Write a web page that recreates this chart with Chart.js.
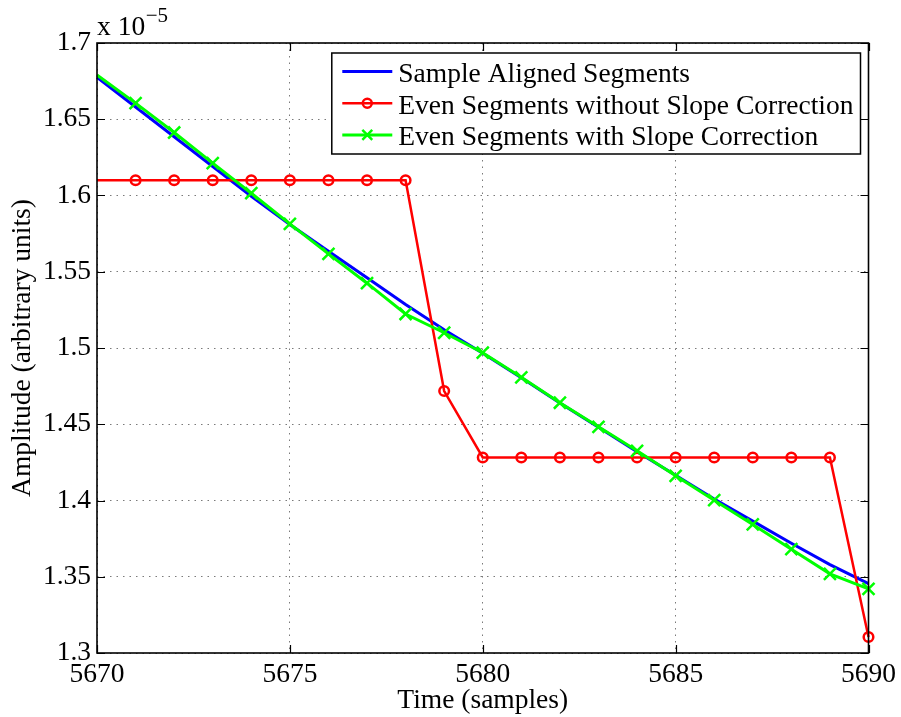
<!DOCTYPE html>
<html><head><meta charset="utf-8">
<script src="https://cdn.jsdelivr.net/npm/chart.js@4/dist/chart.umd.min.js"></script>
<style>html,body{margin:0;padding:0;background:#fff;overflow:hidden}</style>
</head><body>
<canvas id="c" width="901" height="717" style="width:901px;height:717px;display:block"></canvas>
<script>
// ---- data (amplitude in units of 1e-5) ----
const samples = [5670,5671,5672,5673,5674,5675,5676,5677,5678,5679,5680,5681,5682,5683,5684,5685,5686,5687,5688,5689,5690];
const sampleAligned = [1.6775,1.6580,1.6385,1.6190,1.5995,1.5810,1.5635,1.5460,1.5285,1.5120,1.4965,1.4805,1.4640,1.4480,1.4320,1.4165,1.4010,1.3865,1.3720,1.3580,1.3455];
const evenNoSlope   = [1.6100,1.6100,1.6100,1.6100,1.6100,1.6100,1.6100,1.6100,1.6100,1.4718,1.4282,1.4282,1.4282,1.4282,1.4282,1.4282,1.4282,1.4282,1.4282,1.4282,1.3105];
const evenSlope     = [1.6790,1.6606,1.6413,1.6212,1.6015,1.5814,1.5617,1.5425,1.5223,1.5100,1.4969,1.4808,1.4641,1.4483,1.4326,1.4162,1.4002,1.3843,1.3681,1.3519,1.3420];
const seriesLabels = ['Sample Aligned Segments','Even Segments without Slope Correction','Even Segments with Slope Correction'];
const xTicks = [5670,5675,5680,5685,5690];
const yTicks = [1.3,1.35,1.4,1.45,1.5,1.55,1.6,1.65,1.7];
const xTitle = 'Time (samples)';
const yTitle = 'Amplitude (arbitrary units)';
const expBase = 'x 10';
const expPower = '\u22125';

const FAM = "'Liberation Serif','Times New Roman',serif";
const FS = 27.5;

function pts(arr){ return samples.map((s,i)=>({x:s,y:arr[i]})); }

const decor = {
  id:'decor',
  afterDraw(chart){
    const {ctx, chartArea:{left,right,top,bottom}, scales:{x,y}} = chart;
    const ds = chart.data.datasets;
    ctx.save();
    // legend
    ctx.font = FS+'px '+FAM;
    let maxW = 0;
    ds.forEach(d=>{ maxW = Math.max(maxW, ctx.measureText(d.label).width); });
    const boxRight = right - 8, boxTop = top + 10;
    const boxW = 66.5 + maxW + 7, boxH = 101;
    const boxLeft = boxRight - boxW;
    ctx.fillStyle = '#fff';
    ctx.fillRect(boxLeft, boxTop, boxW, boxH);
    ctx.strokeStyle = '#000'; ctx.lineWidth = 1.5;
    ctx.strokeRect(boxLeft, boxTop, boxW, boxH);
    ds.forEach((d,i)=>{
      const ly = boxTop + 18.5 + i*31.7;
      ctx.strokeStyle = d.borderColor; ctx.lineWidth = d.borderWidth;
      ctx.beginPath(); ctx.moveTo(boxLeft+10.5, ly); ctx.lineTo(boxLeft+60.5, ly); ctx.stroke();
      const cx = boxLeft+35.5;
      if (d.pointStyle === 'circle') {
        ctx.lineWidth = 2.5; ctx.beginPath(); ctx.arc(cx, ly, 4.5, 0, Math.PI*2); ctx.stroke();
      } else if (d.pointStyle === 'crossRot') {
        const r = 7*0.7071; ctx.lineWidth = 2.5;
        ctx.beginPath(); ctx.moveTo(cx-r,ly-r); ctx.lineTo(cx+r,ly+r); ctx.moveTo(cx-r,ly+r); ctx.lineTo(cx+r,ly-r); ctx.stroke();
      }
      ctx.fillStyle = '#000'; ctx.textBaseline = 'alphabetic'; ctx.textAlign = 'left';
      ctx.fillText(d.label, boxLeft+66.5, ly+10.3);
    });
    // frame
    ctx.strokeStyle = '#000'; ctx.lineWidth = 1.6;
    ctx.strokeRect(left, top, right-left, bottom-top);
    // inward ticks on all four sides
    const tl = 8; ctx.lineWidth = 1.2;
    ctx.beginPath();
    xTicks.forEach(v=>{ const p = Math.round(x.getPixelForValue(v))+0.5;
      ctx.moveTo(p,bottom); ctx.lineTo(p,bottom-tl); ctx.moveTo(p,top); ctx.lineTo(p,top+tl); });
    yTicks.forEach(v=>{ const p = Math.round(y.getPixelForValue(v))+0.5;
      ctx.moveTo(left,p); ctx.lineTo(left+tl,p); ctx.moveTo(right,p); ctx.lineTo(right-tl,p); });
    ctx.stroke();
    // exponent label
    ctx.fillStyle = '#000'; ctx.textAlign = 'left'; ctx.textBaseline = 'alphabetic';
    ctx.font = FS+'px '+FAM;
    ctx.fillText(expBase, left, 35);
    const w = ctx.measureText(expBase).width;
    ctx.font = '21px '+FAM;
    ctx.fillText(expPower, left + w + 0.5, 21.5);
    ctx.restore();
  }
};

new Chart(document.getElementById('c'), {
  type:'line',
  data:{ datasets:[
    {label:seriesLabels[0], data:pts(sampleAligned), borderColor:'#0000ff', borderWidth:3, pointRadius:0, pointStyle:false, tension:0, order:3, clip:false},
    {label:seriesLabels[1], data:pts(evenNoSlope), borderColor:'#ff0000', borderWidth:2.5, pointStyle:'circle',
      pointRadius:c=>c.dataIndex===0?0:4.8, pointBorderWidth:2.5, pointBorderColor:'#ff0000', pointBackgroundColor:'rgba(0,0,0,0)', tension:0, order:2, clip:false},
    {label:seriesLabels[2], data:pts(evenSlope), borderColor:'#00ff00', borderWidth:3, pointStyle:'crossRot',
      pointRadius:c=>c.dataIndex===0?0:8.5, pointBorderWidth:2.5, pointBorderColor:'#00ff00', pointBackgroundColor:'#00ff00', tension:0, order:1, clip:false}
  ]},
  options:{
    responsive:false, animation:false, devicePixelRatio:1,
    layout:{padding:{left:0,right:32,top:43,bottom:0}},
    plugins:{legend:{display:false}, tooltip:{enabled:false}},
    events:[],
    scales:{
      x:{type:'linear', min:5670, max:5690,
        afterFit:s=>{s.height=64;},
        afterBuildTicks:s=>{s.ticks = xTicks.map(v=>({value:v}));},
        ticks:{autoSkip:false, maxRotation:0, padding:5, color:'#000', font:{family:FAM,size:FS}, callback:v=>String(v)},
        grid:{color:'#7a7a7a', lineWidth:1, drawTicks:false},
        border:{display:false, dash:[1.5,5]},
        title:{display:true, text:xTitle, color:'#000', font:{family:FAM,size:FS}, padding:{top:0,bottom:0}}
      },
      y:{type:'linear', min:1.3, max:1.7,
        afterFit:s=>{s.width=97;},
        afterBuildTicks:s=>{s.ticks = yTicks.map(v=>({value:v}));},
        ticks:{autoSkip:false, padding:6, color:'#000', font:{family:FAM,size:FS}, callback:v=>String(+(+v).toFixed(2))},
        grid:{color:'#7a7a7a', lineWidth:1, drawTicks:false},
        border:{display:false, dash:[1.5,5]},
        title:{display:true, text:yTitle, color:'#000', font:{family:FAM,size:FS}, padding:{top:6,bottom:0}}
      }
    }
  },
  plugins:[decor]
});
</script>
</body></html>
